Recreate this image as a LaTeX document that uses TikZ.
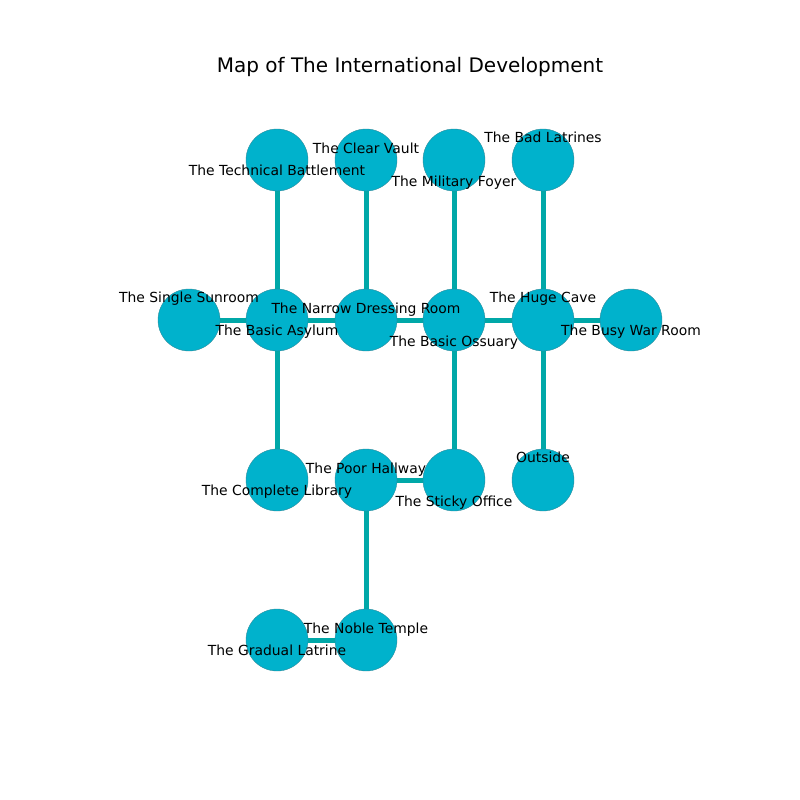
\documentclass[tikz,border=0pt]{standalone}
\usepackage{fontspec}
\setmainfont{DejaVu Sans}
\definecolor{roomfill}{HTML}{00B2CC}
\definecolor{roomedge}{HTML}{2E8A99}
\definecolor{link}{HTML}{00A8A8}
\begin{document}
\begin{tikzpicture}[x=1pt,y=-1pt,
  room/.style={circle,fill=roomfill,draw=roomedge,line width=0.4pt,minimum size=62pt,inner sep=0pt},
  lbl/.style={font=\fontsize{13.9}{16}\selectfont,inner sep=0pt,anchor=base,yshift=-5.3pt},
  linkline/.style={link,line width=5pt}]
\useasboundingbox (0,0) rectangle (800,800);
\node[font=\fontsize{20}{24}\selectfont] (title) at (410,67) {Map of The International Development};
% rooms
\coordinate (tb) at (277,160);
\coordinate (cv) at (366,160);
\coordinate (mf) at (454,160);
\coordinate (bl) at (543,160);
\coordinate (ss) at (189,320);
\coordinate (ba) at (277,320);
\coordinate (nd) at (366,320);
\coordinate (bo) at (454,320);
\coordinate (hc) at (543,320);
\coordinate (bw) at (631,320);
\coordinate (cl) at (277,480);
\coordinate (ph) at (366,480);
\coordinate (so) at (454,480);
\coordinate (ou) at (543,480);
\coordinate (gl) at (277,640);
\coordinate (nt) at (366,640);
% links
\draw[linkline] (tb) -- (ba);
\draw[linkline] (cv) -- (nd);
\draw[linkline] (mf) -- (bo);
\draw[linkline] (bl) -- (hc);
\draw[linkline] (ss) -- (ba);
\draw[linkline] (ba) -- (nd);
\draw[linkline] (nd) -- (bo);
\draw[linkline] (bo) -- (hc);
\draw[linkline] (hc) -- (bw);
\draw[linkline] (ba) -- (cl);
\draw[linkline] (bo) -- (so);
\draw[linkline] (hc) -- (ou);
\draw[linkline] (ph) -- (so);
\draw[linkline] (ph) -- (nt);
\draw[linkline] (nt) -- (gl);
% circles
\foreach \c in {tb,cv,mf,bl,ss,ba,nd,bo,hc,bw,cl,ph,so,ou,gl,nt}
  \node[room] (\c-c) at (\c) {};
% labels
\node[lbl] (tb-l) at (277,170) {The Technical Battlement};
\node[lbl] (cv-l) at (366,148) {The Clear Vault};
\node[lbl] (mf-l) at (454,181) {The Military Foyer};
\node[lbl] (bl-l) at (543,137) {The Bad Latrines};
\node[lbl] (ss-l) at (189,297) {The Single Sunroom};
\node[lbl] (ba-l) at (277,330) {The Basic Asylum};
\node[lbl] (nd-l) at (366,308) {The Narrow Dressing Room};
\node[lbl] (bo-l) at (454,341) {The Basic Ossuary};
\node[lbl] (hc-l) at (543,297) {The Huge Cave};
\node[lbl] (bw-l) at (631,330) {The Busy War Room};
\node[lbl] (cl-l) at (277,490) {The Complete Library};
\node[lbl] (ph-l) at (366,468) {The Poor Hallway};
\node[lbl] (so-l) at (454,501) {The Sticky Office};
\node[lbl] (ou-l) at (543,457) {Outside};
\node[lbl] (gl-l) at (277,650) {The Gradual Latrine};
\node[lbl] (nt-l) at (366,628) {The Noble Temple};
\end{tikzpicture}
\end{document}
